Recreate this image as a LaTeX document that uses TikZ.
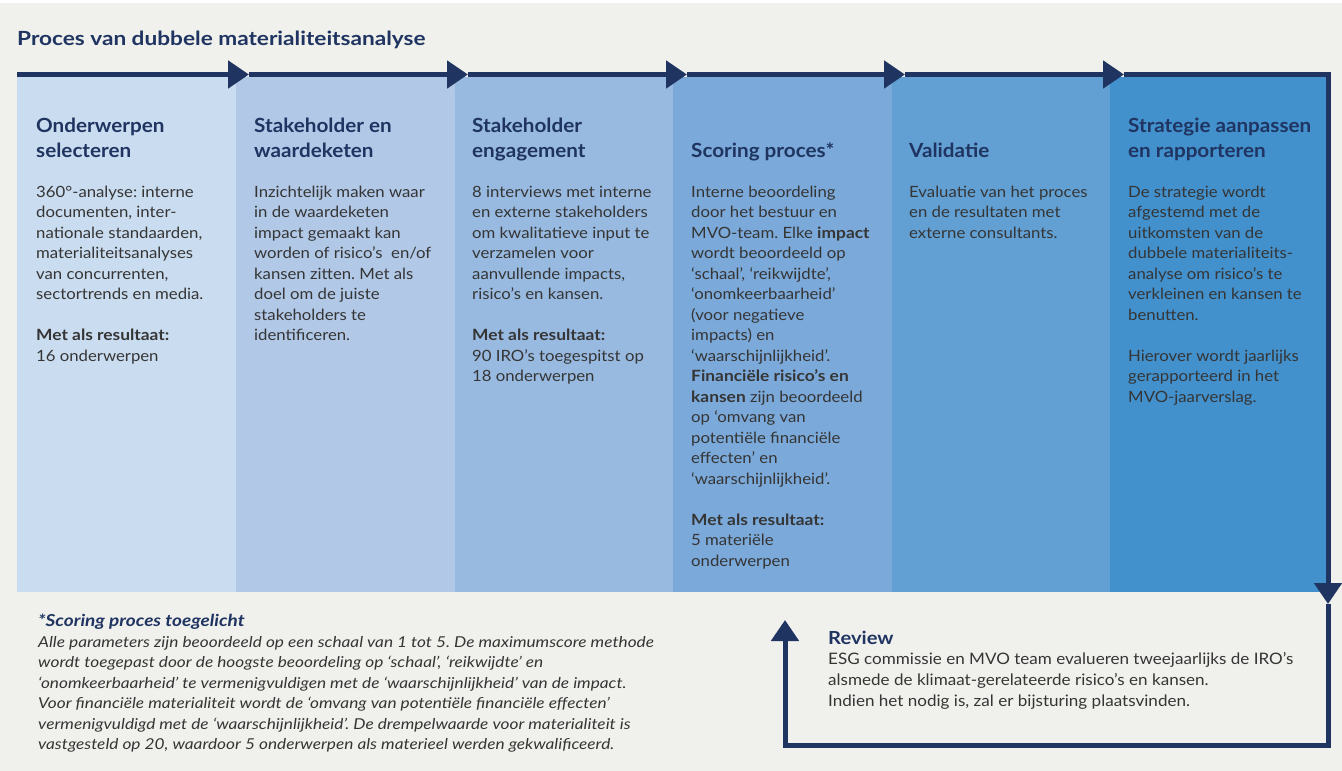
\documentclass[tikz,border=0pt]{standalone}
\usepackage{fontspec}
\setmainfont{Lato}[FakeStretch=1.08,
  BoldFeatures={FakeStretch=1.12},
  ItalicFeatures={FakeStretch=1.15},
  BoldItalicFeatures={FakeStretch=1.15}]
\newfontfamily\headfont{Lato Bold}[FakeStretch=1.06]
\newfontfamily\titlefont{Lato Bold}[FakeStretch=1.16]
\frenchspacing
\usetikzlibrary{arrows.meta,positioning}
\definecolor{navy}{HTML}{1F3461}
\definecolor{bgcol}{HTML}{F0F0EC}
\definecolor{txt}{HTML}{353535}
\definecolor{colA}{HTML}{CADCEF}
\definecolor{colB}{HTML}{B1C8E7}
\definecolor{colC}{HTML}{98BAE0}
\definecolor{colD}{HTML}{7BA9D9}
\definecolor{colE}{HTML}{62A0D3}
\definecolor{colF}{HTML}{4290CC}
\tikzset{
  stepcol/.style={anchor=north west, inner sep=0pt, minimum height=515pt},
  colhead/.style={anchor=north west, inner sep=0pt, align=left, text=navy,
    font=\fontsize{19.5}{25.5}\headfont},
  colbody/.style={anchor=north west, inner sep=0pt, align=left, text=txt,
    font=\fontsize{15.5}{20.5}\selectfont},
  flow/.style={draw=navy, line width=5pt, line join=miter,
    -{Triangle[length=21pt,width=27pt]}},
}
\begin{document}
\begin{tikzpicture}[x=1pt,y=-1pt]
  \useasboundingbox (0,0) rectangle (1342,771);
  \fill[bgcol] (0,3) rectangle (1342,771);

  \node[anchor=north west, inner sep=0pt, text=navy,
    font=\fontsize{19.5}{24}\titlefont] (title) at (17,30.8)
    {Proces van dubbele materialiteitsanalyse};

  % columns
  \node[stepcol, minimum width=219pt, fill=colA] (col1) at (17,77) {};
  \node[stepcol, minimum width=219pt, fill=colB] (col2) at (236,77) {};
  \node[stepcol, minimum width=218pt, fill=colC] (col3) at (455,77) {};
  \node[stepcol, minimum width=219pt, fill=colD] (col4) at (673,77) {};
  \node[stepcol, minimum width=218pt, fill=colE] (col5) at (892,77) {};
  \node[stepcol, minimum width=220pt, fill=colF] (col6) at (1110,77) {};

  % headings
  \node[colhead] (head1) at (36,117.8) {Onderwerpen\\selecteren};
  \node[colhead] (head2) at (254,117.8) {Stakeholder en\\waardeketen};
  \node[colhead] (head3) at (472,117.8) {Stakeholder\\engagement};
  \node[colhead] (head4) at (691,142.8) {Scoring proces*};
  \node[colhead] (head5) at (909,142.8) {Validatie};
  \node[colhead] (head6) at (1128,117.8) {Strategie aanpassen\\en rapporteren};

  % texts
  \node[colbody] (body1) at (36,185.8) {360°-analyse: interne\\documenten, inter-\\nationale standaarden,\\materialiteitsanalyses\\van concurrenten,\\sectortrends en media.\\[20.5pt]\textbf{Met als resultaat:}\\16 onderwerpen};
  \node[colbody] (body2) at (254,185.8) {Inzichtelijk maken waar\\in de waardeketen\\impact gemaakt kan\\worden of risico’s\ \ en/of\\kansen zitten. Met als\\doel om de juiste\\stakeholders te\\identificeren.};
  \node[colbody] (body3) at (472,185.8) {8 interviews met interne\\en externe stakeholders\\om kwalitatieve input te\\verzamelen voor\\aanvullende impacts,\\risico’s en kansen.\\[20.5pt]\textbf{Met als resultaat:}\\90 IRO’s toegespitst op\\18 onderwerpen};
  \node[colbody] (body4) at (691,185.8) {Interne beoordeling\\door het bestuur en\\MVO-team. Elke \textbf{impact}\\wordt beoordeeld op\\‘schaal’, ‘reikwijdte’,\\‘onomkeerbaarheid’\\(voor negatieve\\impacts) en\\‘waarschijnlijkheid’.\\\textbf{Financiële risico’s en}\\\textbf{kansen} zijn beoordeeld\\op ‘omvang van\\potentiële financiële\\effecten’ en\\‘waarschijnlijkheid’.\\[20.5pt]\textbf{Met als resultaat:}\\5 materiële\\onderwerpen};
  \node[colbody] (body5) at (909,185.8) {Evaluatie van het proces\\en de resultaten met\\externe consultants.};
  \node[colbody] (body6) at (1128,185.8) {De strategie wordt\\afgestemd met de\\uitkomsten van de\\dubbele materialiteits-\\analyse om risico’s te\\verkleinen en kansen te\\benutten.\\[20.5pt]Hierover wordt jaarlijks\\gerapporteerd in het\\MVO-jaarverslag.};

  % flow line
  \coordinate (start) at (17,74.5);
  \coordinate (tip1) at (249,74.5);
  \coordinate (tip2) at (468,74.5);
  \coordinate (tip3) at (687,74.5);
  \coordinate (tip4) at (905,74.5);
  \coordinate (tip5) at (1124,74.5);
  \coordinate (corner) at (1328,74.5);
  \coordinate (down) at (1328,604);
  \coordinate (lowright) at (1328,745);
  \coordinate (lowleft) at (785,745);
  \coordinate (up) at (785,620);
  \draw[flow] (start) -- (tip1);
  \draw[flow] (tip1) -- (tip2);
  \draw[flow] (tip2) -- (tip3);
  \draw[flow] (tip3) -- (tip4);
  \draw[flow] (tip4) -- (tip5);
  \draw[flow] (tip5) -- (corner) -- (down);
  \draw[flow] (down) -- (lowright) -- (lowleft) -- (up);

  % footnote
  \node[anchor=north west, inner sep=0pt, text=navy,
    font=\fontsize{16.5}{20}\selectfont\bfseries\itshape] (notehead) at (38,613.5)
    {*Scoring proces toegelicht};
  \node[anchor=north west, inner sep=0pt, align=left, text=txt,
    font=\fontsize{15}{20.5}\selectfont\itshape] (notebody) at (38,636)
    {Alle parameters zijn beoordeeld op een schaal van 1 tot 5. De maximumscore methode\\wordt toegepast door de hoogste beoordeling op ‘schaal’, ‘reikwijdte’ en\\‘onomkeerbaarheid’ te vermenigvuldigen met de ‘waarschijnlijkheid’ van de impact.\\Voor financiële materialiteit wordt de ‘omvang van potentiële financiële effecten’\\vermenigvuldigd met de ‘waarschijnlijkheid’. De drempelwaarde voor materialiteit is\\vastgesteld op 20, waardoor 5 onderwerpen als materieel werden gekwalificeerd.};

  % review
  \node[anchor=north west, inner sep=0pt, text=navy,
    font=\fontsize{18}{22}\selectfont\bfseries] (revhead) at (828,630.5)
    {Review};
  \node[anchor=north west, inner sep=0pt, align=left, text=txt,
    font=\fontsize{15.8}{20.7}\selectfont] (revbody) at (828,652.5)
    {ESG commissie en MVO team evalueren tweejaarlijks de IRO’s\\alsmede de klimaat-gerelateerde risico’s en kansen.\\Indien het nodig is, zal er bijsturing plaatsvinden.};
\end{tikzpicture}
\end{document}
